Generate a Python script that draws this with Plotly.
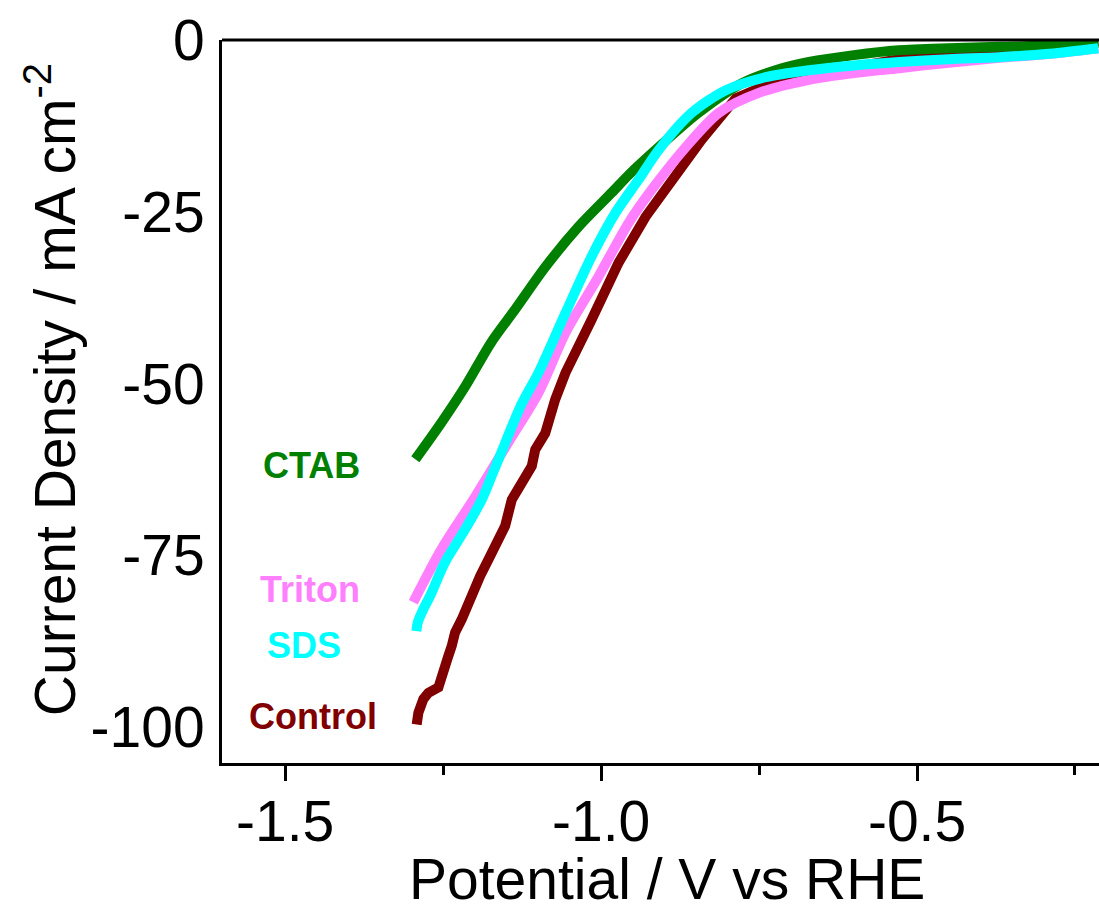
import plotly.graph_objects as go

# ---- data ----
ctab_v = [-1.294, -1.253, -1.215, -1.174, -1.136, -1.088, -1.036, -0.983, -0.956, -0.909,
          -0.846, -0.777, -0.724, -0.671, -0.600, -0.529, -0.450, -0.370, -0.290, -0.213]
ctab_j = [-61.0, -55.7, -50.4, -44.0, -39.2, -33.0, -27.2, -22.2, -19.6, -15.6,
          -10.6, -6.3, -4.4, -3.2, -2.2, -1.5, -1.2, -1.0, -0.8, -0.4]

sds_v = [-1.2924, -1.2900, -1.2813, -1.2707, -1.2523, -1.2448, -1.2152, -1.1890, -1.1735, -1.1600,
         -1.1260, -1.0990, -1.0563, -1.0151, -0.9770, -0.9406, -0.9089, -0.8566, -0.8027, -0.7393,
         -0.6712, -0.6000, -0.5285, -0.4500, -0.3700, -0.2900, -0.2132]
sds_j = [-86.0, -84.7, -82.8, -80.9, -77.0, -75.6, -71.2, -66.9, -63.5, -60.5,
         -53.0, -48.4, -39.7, -31.5, -25.1, -20.3, -16.0, -10.6, -7.3, -5.4,
         -4.4, -3.7, -3.2, -2.8, -2.5, -2.0, -1.2]

triton_v = [-1.2972, -1.2528, -1.1989, -1.1466, -1.0990, -1.0563, -1.0040, -0.9564, -0.9200, -0.8661,
            -0.8138, -0.7504, -0.6712, -0.6000, -0.5285, -0.4500, -0.3700, -0.2900, -0.2132]
triton_j = [-81.8, -74.1, -66.4, -58.5, -51.3, -42.6, -34.4, -26.6, -21.8, -15.6,
            -10.6, -7.7, -5.8, -4.8, -4.1, -3.3, -2.6, -2.0, -1.2]

control_v = [-1.2919, -1.2892, -1.2813, -1.2734, -1.2575, -1.2523, -1.2469, -1.2417, -1.2365, -1.2311,
             -1.2206, -1.1994, -1.1915, -1.1783, -1.1677, -1.1598, -1.1519, -1.1414, -1.1307, -1.1201,
             -1.1097, -1.1043, -1.0884, -1.0726, -1.0563, -1.0151, -0.9723, -0.9295, -0.8883, -0.8407,
             -0.7868, -0.7235, -0.6712, -0.6000, -0.5285, -0.4500, -0.3700, -0.2900, -0.2132]
control_j = [-99.6, -97.9, -95.9, -95.0, -94.2, -93.0, -91.6, -89.6, -88.2, -86.2,
             -84.3, -79.0, -78.0, -75.6, -73.6, -72.7, -70.7, -66.9, -65.4, -64.0,
             -62.0, -59.6, -57.2, -52.3, -48.4, -40.7, -32.4, -25.7, -20.3, -14.5,
             -8.5, -6.0, -5.1, -3.8, -2.8, -1.9, -1.3, -0.6, -0.1]

series_names = ["Control", "Triton", "CTAB", "SDS"]
series_colors = ["#800000", "#FF80FF", "#008000", "#00FFFF"]
label_x = [-1.4556, -1.4604, -1.4588, -1.4699]
label_y = [-98.5, -79.9, -61.9, -88.1]

x_tickvals = [-1.5, -1.0, -0.5]
x_ticktext = ["-1.5", "-1.0", "-0.5"]
x_minor_vals = [-1.25, -0.75, -0.25]
y_tickvals = [0, -25, -50, -75, -100]
y_ticktext = ["0", "-25", "-50", "-75", "-100"]

FONT = "Liberation Sans, Arial, sans-serif"

fig = go.Figure()
data_v = [control_v, triton_v, ctab_v, sds_v]
data_j = [control_j, triton_j, ctab_j, sds_j]
for name, col, v, j in zip(series_names, series_colors, data_v, data_j):
    if name == "Control":
        ln = dict(color=col, width=10)
    else:
        ln = dict(color=col, width=10, shape="spline", smoothing=0.8)
    fig.add_trace(go.Scatter(x=v, y=j, mode="lines", name=name, line=ln,
                             showlegend=False))

for name, col, lx, ly in zip(series_names, series_colors, label_x, label_y):
    fig.add_annotation(x=lx, y=ly, xref="x", yref="y", text="<b>%s</b>" % name,
                       showarrow=False, xanchor="center", yanchor="middle",
                       font=dict(family=FONT, size=36, color=col))

fig.add_annotation(x=0.507, y=-0.161, xref="paper", yref="paper",
                   xanchor="center", yanchor="middle",
                   text="Potential / V vs RHE", showarrow=False,
                   font=dict(family=FONT, size=57, color="black"))
fig.add_annotation(x=-0.195, y=0.517, xref="paper", yref="paper", textangle=-90,
                   xanchor="center", yanchor="middle",
                   text="Current Density / mA cm<sup>-2</sup>", showarrow=False,
                   font=dict(family=FONT, size=57, color="black"))

fig.add_shape(type="line", xref="paper", yref="paper", x0=0, x1=1, y0=1, y1=1,
              line=dict(color="black", width=3))

fig.update_xaxes(range=[-1.6, -0.212], showgrid=False, zeroline=False,
                 showline=True, linecolor="black", linewidth=3,
                 tickmode="array", tickvals=x_tickvals, ticktext=x_ticktext,
                 ticks="outside", ticklen=15, tickwidth=3, tickcolor="black",
                 ticklabelstandoff=-8,
                 minor=dict(tickmode="array", tickvals=x_minor_vals,
                            ticks="outside", ticklen=9, tickwidth=3, tickcolor="black"),
                 tickfont=dict(family=FONT, size=57, color="black"))
fig.update_yaxes(range=[-105.2, 0], showgrid=False, zeroline=False,
                 showline=True, linecolor="black", linewidth=3,
                 tickmode="array", tickvals=y_tickvals, ticktext=y_ticktext,
                 ticks="", ticklabelstandoff=3,
                 tickfont=dict(family=FONT, size=57, color="black"))

fig.update_layout(width=1099, height=913, margin=dict(l=222, r=0, t=40, b=150),
                  plot_bgcolor="white", paper_bgcolor="white")

fig.write_html("out.html")
